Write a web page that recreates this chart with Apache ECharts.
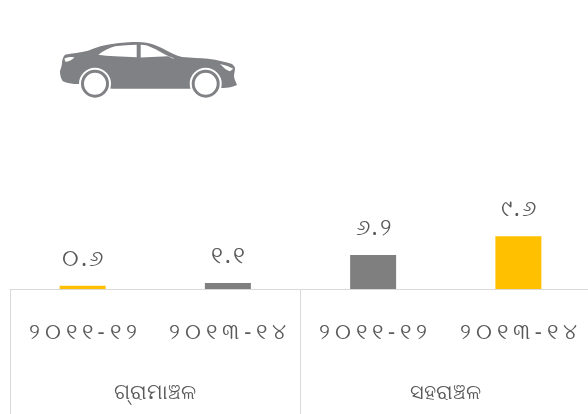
<!DOCTYPE html>
<html><head><meta charset="utf-8">
<style>html,body{margin:0;padding:0;background:#fff}#c{width:588px;height:414px}</style>
<script src="https://cdn.jsdelivr.net/npm/echarts@6/dist/echarts.min.js"></script>
</head><body><div id="c"></div>
<script>
const periods = ['୨୦୧୧-୧୨','୨୦୧୩-୧୪','୨୦୧୧-୧୨','୨୦୧୩-୧୪'];
const groups = ['ଗ୍ରାମାଞ୍ଚଳ','ସହରାଞ୍ଚଳ'];
const values = [0.6,1.1,6.2,9.6];
const valueLabels = ['୦.୬','୧.୧','୬.୨','୯.୬'];
const barColors = ['#FFC000','#7F7F7F','#7F7F7F','#FFC000'];
const font = '"Noto Sans","DejaVu Sans",sans-serif';

// Wider digit tracking, as in the reference; the label strings stay as they are.
const nativeFillText = CanvasRenderingContext2D.prototype.fillText;
CanvasRenderingContext2D.prototype.fillText = function (t, x, y, m) {
  const isNum = /^[୦-୯.\-]+$/.test(String(t));
  const track = !isNum ? 0 : (String(t).length > 4 ? 5 : 2);
  this.letterSpacing = track + 'px';
  const px = x + track / 2;
  const r = m === undefined ? nativeFillText.call(this, t, px, y) : nativeFillText.call(this, t, px, y, m);
  this.letterSpacing = '0px';
  return r;
};

const chart = echarts.init(document.getElementById('c'),null,{renderer:'canvas'});
const carBody = 'M65 54.7 C72 53.5 80 52.5 88 50.7 C97 47 104 45 112 44 C122 42.5 130 42 138 42 C150 42 158 46 165 49.7 C171 53 176 55.5 182 57 C192 58 200 58 208 58.7 C218 60 226 62 232 64 C234 66 235 67 235 68 C235 71 234 74 234 76 C234 79 236 82 237 85 C233 87 228 88 223 88 L190 88.7 L112 88.7 L81 84 C76 84 72 84 68 83 C64 82 62 81 62 80 C60 76 60 73 60 71 C61 68 62 65 62 63 C62 60 63 57 65 54.7 Z';
const winRear = 'M98.3 54.7 C103 51 109 48 115 46.3 C122 45.2 130 44.8 136.7 44.7 L136.7 57.3 L115 56.3 C109 56 103 55.5 98.3 54.7 Z';
const winFront = 'M140.7 44.7 C143 44.7 145 45 147 45.6 C151 47 155 49 158.3 50.7 C163 53.5 168 56 173.3 58 L174 59 L168 56.3 L140.7 57.5 Z';
const tailLight = 'M64.3 58.7 C66 57.8 68 57.2 70 57 L74.3 57.3 C73 59 71.5 60 70 60.7 L65.7 62 Z';
const headLight = 'M220 64 C225 65 230 67 233.3 68.7 L230 71.3 C228 70.5 226 69.5 225 68.7 Z';
[['carBody',carBody],['winRear',winRear],['winFront',winFront],['tailLight',tailLight],['headLight',headLight]]
  .forEach(([n,p])=>echarts.graphic.registerShape(n,echarts.graphic.extendPath(p,{})));
const carGrey = '#808184';
chart.setOption({
  animation:false,
  backgroundColor:'#fff',
  grid:{left:10,width:581,top:190,height:99,containLabel:false,outerBoundsMode:'none'},
  xAxis:[
    {type:'category',data:periods,position:'bottom',
     axisLine:{show:true,lineStyle:{color:'#D9D9D9',width:1}},axisTick:{show:false},
     axisLabel:{interval:0,margin:33,fontSize:22,color:'#595959',fontFamily:font}},
    {type:'category',data:groups,position:'bottom',
     axisLine:{show:false},
     axisTick:{show:true,length:125,alignWithLabel:false,lineStyle:{color:'#D9D9D9',width:1}},
     axisLabel:{interval:0,margin:94,fontSize:21,color:'#595959',fontFamily:font}}
  ],
  yAxis:{type:'value',min:0,max:18,show:false},
  series:[{type:'bar',barWidth:46,
    data:values.map((v,i)=>({value:v,itemStyle:{color:barColors[i]},
      label:{formatter:valueLabels[i]}})),
    label:{show:true,position:'top',distance:15,fontSize:23,color:'#595959',fontFamily:font}}],
  graphic:[{type:'group',children:[
    {type:'carBody',style:{fill:carGrey}},
    {type:'winRear',style:{fill:'#fff'}},
    {type:'winFront',style:{fill:'#fff'}},
    {type:'tailLight',style:{fill:'#fff'}},
    {type:'headLight',style:{fill:'#fff'}},
    {type:'circle',shape:{cx:95,cy:83.7,r:16},style:{fill:'#fff'}},
    {type:'circle',shape:{cx:205.7,cy:83.7,r:16},style:{fill:'#fff'}},
    {type:'circle',shape:{cx:95,cy:83.7,r:12.5},style:{fill:'#fff',stroke:carGrey,lineWidth:3}},
    {type:'circle',shape:{cx:205.7,cy:83.7,r:12.5},style:{fill:'#fff',stroke:carGrey,lineWidth:3}}
  ]}]
});
</script></body></html>
